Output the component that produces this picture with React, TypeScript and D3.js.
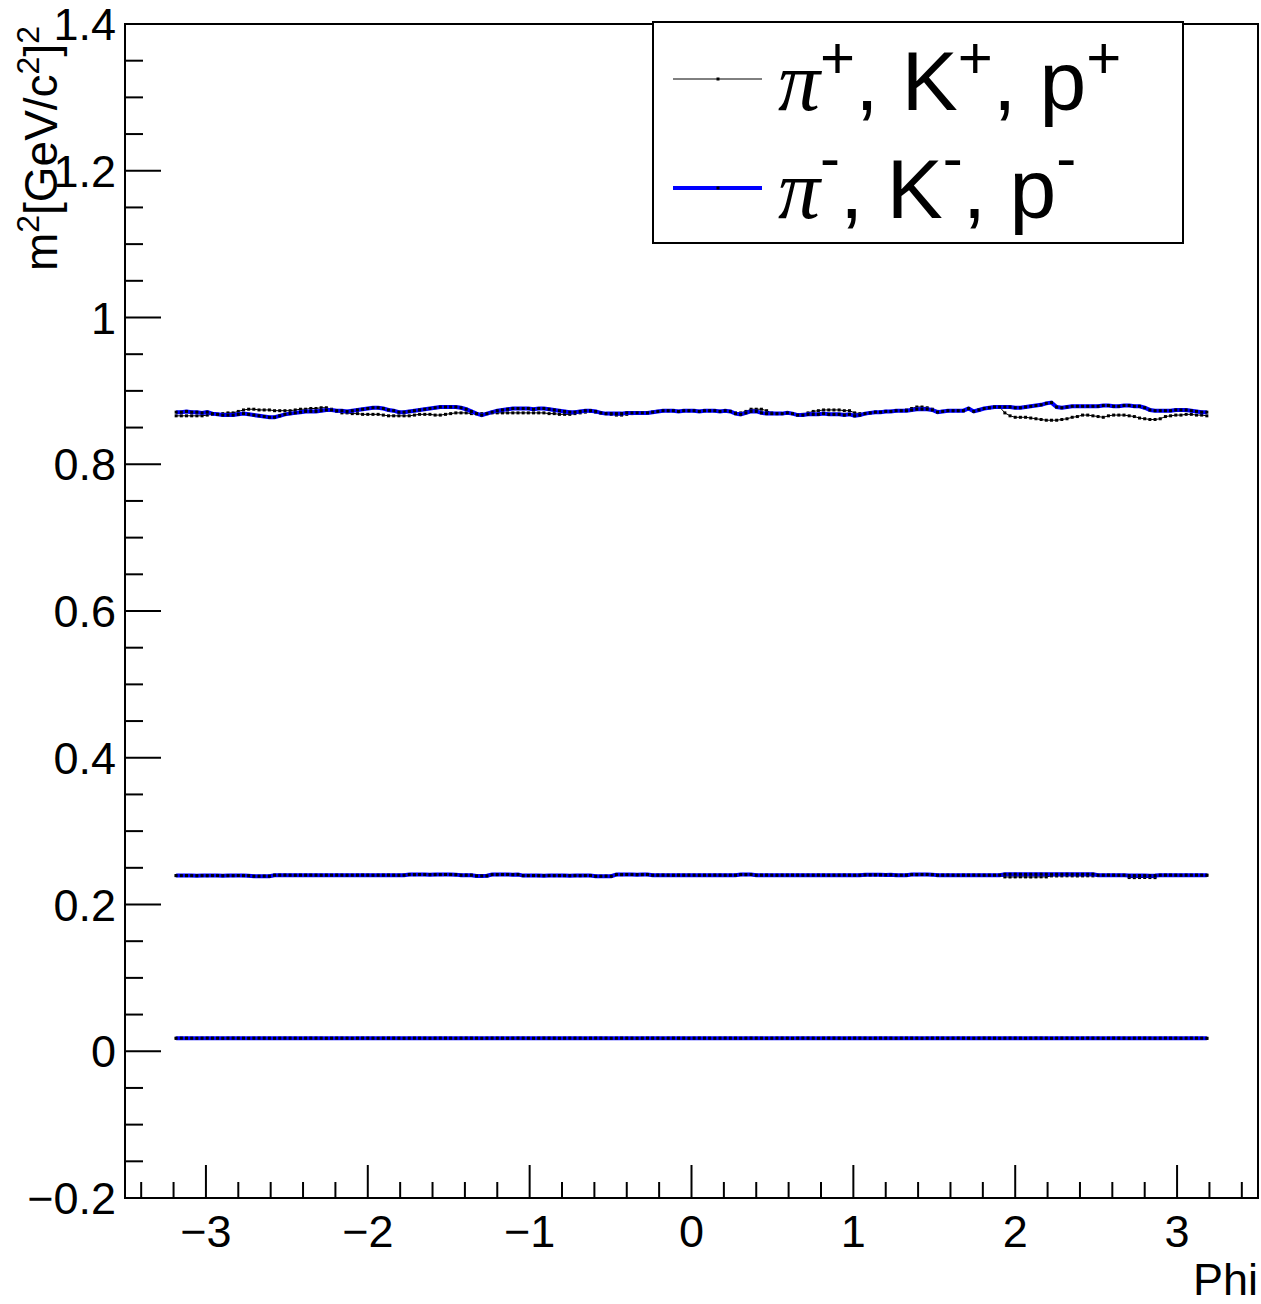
import React from "react";
import * as d3 from "d3";

// Histogram binning in Phi
const PHI_MIN = -3.2;
const PHI_MAX = 3.2;
const N_BINS = 200;

// mean m^2 per bin, protons (+) black
const protonPlus = [
  0.866,0.866,0.866,0.866,0.866,0.866,0.867,0.868,0.868,0.869,
  0.870,0.870,0.872,0.874,0.875,0.875,0.874,0.874,0.874,0.873,
  0.873,0.873,0.873,0.874,0.875,0.875,0.876,0.876,0.877,0.877,
  0.875,0.872,0.870,0.870,0.869,0.869,0.868,0.868,0.868,0.868,
  0.867,0.866,0.866,0.866,0.866,0.866,0.867,0.868,0.868,0.868,
  0.867,0.867,0.868,0.869,0.870,0.870,0.870,0.869,0.869,0.869,
  0.869,0.870,0.870,0.870,0.870,0.870,0.870,0.870,0.870,0.870,
  0.870,0.870,0.869,0.869,0.868,0.868,0.868,0.869,0.870,0.871,
  0.872,0.871,0.870,0.869,0.868,0.867,0.867,0.868,0.869,0.870,
  0.870,0.870,0.871,0.872,0.873,0.873,0.873,0.872,0.873,0.873,
  0.873,0.872,0.873,0.873,0.873,0.872,0.873,0.872,0.870,0.870,
  0.872,0.875,0.875,0.875,0.873,0.870,0.869,0.869,0.870,0.869,
  0.867,0.868,0.870,0.872,0.873,0.874,0.874,0.874,0.874,0.873,
  0.873,0.870,0.869,0.869,0.870,0.871,0.871,0.872,0.872,0.873,
  0.873,0.874,0.876,0.878,0.878,0.877,0.875,0.872,0.872,0.873,
  0.873,0.873,0.873,0.875,0.872,0.874,0.876,0.877,0.878,0.878,
  0.870,0.866,0.864,0.864,0.864,0.863,0.862,0.861,0.860,0.860,
  0.860,0.861,0.862,0.864,0.865,0.867,0.867,0.866,0.865,0.864,
  0.866,0.867,0.867,0.867,0.866,0.865,0.863,0.862,0.861,0.861,
  0.862,0.865,0.866,0.867,0.867,0.868,0.868,0.867,0.867,0.866,
];

// protons (-) blue
const protonMinus = [
  0.871,0.871,0.872,0.871,0.871,0.870,0.871,0.869,0.868,0.867,
  0.867,0.867,0.868,0.869,0.868,0.867,0.866,0.865,0.864,0.864,
  0.866,0.868,0.869,0.870,0.871,0.872,0.872,0.872,0.873,0.874,
  0.874,0.873,0.873,0.872,0.873,0.874,0.875,0.876,0.877,0.877,
  0.876,0.874,0.873,0.871,0.871,0.872,0.873,0.874,0.875,0.876,
  0.877,0.878,0.878,0.878,0.878,0.877,0.875,0.872,0.869,0.867,
  0.869,0.871,0.873,0.874,0.875,0.876,0.876,0.876,0.876,0.875,
  0.876,0.876,0.875,0.874,0.873,0.872,0.871,0.871,0.872,0.873,
  0.873,0.872,0.870,0.869,0.869,0.869,0.869,0.870,0.870,0.870,
  0.870,0.870,0.871,0.872,0.873,0.873,0.873,0.872,0.873,0.873,
  0.873,0.872,0.873,0.873,0.873,0.872,0.873,0.872,0.869,0.868,
  0.870,0.872,0.872,0.870,0.869,0.869,0.869,0.869,0.870,0.869,
  0.867,0.867,0.868,0.868,0.868,0.869,0.868,0.868,0.868,0.867,
  0.868,0.866,0.867,0.869,0.870,0.871,0.871,0.872,0.872,0.873,
  0.873,0.873,0.874,0.875,0.875,0.875,0.874,0.871,0.872,0.873,
  0.873,0.873,0.873,0.876,0.872,0.874,0.876,0.877,0.878,0.878,
  0.878,0.878,0.877,0.877,0.878,0.879,0.880,0.881,0.883,0.884,
  0.878,0.877,0.878,0.879,0.879,0.879,0.879,0.879,0.879,0.880,
  0.880,0.879,0.879,0.880,0.880,0.879,0.879,0.877,0.874,0.873,
  0.873,0.873,0.873,0.874,0.874,0.874,0.873,0.872,0.871,0.871,
];

// kaons (+) black
const kaonPlus = [
  0.2394,0.2395,0.2393,0.2394,0.2395,0.2394,0.2393,0.2394,0.2395,0.2394,
  0.2393,0.2394,0.2395,0.2394,0.2393,0.2385,0.2384,0.2385,0.2386,0.2399,
  0.2400,0.2399,0.2398,0.2399,0.2400,0.2399,0.2398,0.2399,0.2400,0.2399,
  0.2398,0.2399,0.2400,0.2399,0.2398,0.2399,0.2400,0.2399,0.2398,0.2399,
  0.2400,0.2399,0.2398,0.2399,0.2400,0.2408,0.2407,0.2408,0.2409,0.2408,
  0.2407,0.2408,0.2409,0.2408,0.2407,0.2399,0.2400,0.2399,0.2390,0.2389,
  0.2390,0.2408,0.2407,0.2408,0.2409,0.2408,0.2407,0.2394,0.2395,0.2394,
  0.2393,0.2394,0.2395,0.2394,0.2393,0.2394,0.2395,0.2394,0.2393,0.2394,
  0.2395,0.2385,0.2384,0.2385,0.2386,0.2408,0.2407,0.2408,0.2409,0.2408,
  0.2407,0.2408,0.2399,0.2400,0.2399,0.2398,0.2399,0.2400,0.2399,0.2398,
  0.2399,0.2400,0.2399,0.2398,0.2399,0.2400,0.2399,0.2398,0.2399,0.2408,
  0.2407,0.2408,0.2399,0.2400,0.2399,0.2398,0.2399,0.2400,0.2399,0.2398,
  0.2399,0.2400,0.2399,0.2398,0.2399,0.2400,0.2399,0.2398,0.2399,0.2400,
  0.2399,0.2398,0.2399,0.2404,0.2405,0.2404,0.2403,0.2404,0.2405,0.2399,
  0.2398,0.2399,0.2408,0.2407,0.2408,0.2409,0.2408,0.2399,0.2400,0.2399,
  0.2398,0.2399,0.2400,0.2399,0.2398,0.2399,0.2400,0.2399,0.2398,0.2399,
  0.2376,0.2375,0.2376,0.2377,0.2376,0.2375,0.2376,0.2377,0.2376,0.2390,
  0.2389,0.2390,0.2391,0.2390,0.2389,0.2390,0.2391,0.2390,0.2399,0.2398,
  0.2399,0.2400,0.2399,0.2398,0.2367,0.2366,0.2367,0.2368,0.2367,0.2366,
  0.2399,0.2400,0.2399,0.2398,0.2399,0.2400,0.2399,0.2398,0.2399,0.2400,
];

// kaons (-) blue
const kaonMinus = [
  0.2394,0.2394,0.2395,0.2394,0.2393,0.2394,0.2394,0.2395,0.2394,0.2393,
  0.2394,0.2394,0.2395,0.2394,0.2393,0.2385,0.2385,0.2386,0.2385,0.2399,
  0.2399,0.2400,0.2399,0.2398,0.2399,0.2399,0.2400,0.2399,0.2398,0.2399,
  0.2399,0.2400,0.2399,0.2398,0.2399,0.2399,0.2400,0.2399,0.2398,0.2399,
  0.2399,0.2400,0.2399,0.2398,0.2399,0.2408,0.2408,0.2409,0.2408,0.2407,
  0.2408,0.2408,0.2409,0.2408,0.2407,0.2399,0.2399,0.2400,0.2390,0.2390,
  0.2391,0.2408,0.2408,0.2409,0.2408,0.2407,0.2408,0.2394,0.2394,0.2395,
  0.2394,0.2393,0.2394,0.2394,0.2395,0.2394,0.2393,0.2394,0.2394,0.2395,
  0.2394,0.2385,0.2385,0.2386,0.2385,0.2408,0.2408,0.2409,0.2408,0.2407,
  0.2408,0.2408,0.2399,0.2399,0.2400,0.2399,0.2398,0.2399,0.2399,0.2400,
  0.2399,0.2398,0.2399,0.2399,0.2400,0.2399,0.2398,0.2399,0.2399,0.2408,
  0.2408,0.2409,0.2399,0.2399,0.2400,0.2399,0.2398,0.2399,0.2399,0.2400,
  0.2399,0.2398,0.2399,0.2399,0.2400,0.2399,0.2398,0.2399,0.2399,0.2400,
  0.2399,0.2398,0.2399,0.2404,0.2404,0.2405,0.2404,0.2403,0.2404,0.2399,
  0.2399,0.2400,0.2408,0.2408,0.2409,0.2408,0.2407,0.2399,0.2399,0.2400,
  0.2399,0.2398,0.2399,0.2399,0.2400,0.2399,0.2398,0.2399,0.2399,0.2400,
  0.2412,0.2412,0.2413,0.2412,0.2411,0.2412,0.2412,0.2413,0.2412,0.2411,
  0.2412,0.2412,0.2413,0.2412,0.2411,0.2412,0.2412,0.2413,0.2399,0.2399,
  0.2400,0.2399,0.2398,0.2399,0.2394,0.2394,0.2395,0.2394,0.2393,0.2394,
  0.2399,0.2399,0.2400,0.2399,0.2398,0.2399,0.2399,0.2400,0.2399,0.2398,
];

// pions (+) black
const pionPlus = [
  0.0177,0.0177,0.0178,0.0177,0.0176,0.0177,0.0177,0.0178,0.0177,0.0176,
  0.0177,0.0177,0.0178,0.0177,0.0176,0.0177,0.0177,0.0178,0.0177,0.0176,
  0.0177,0.0177,0.0178,0.0177,0.0176,0.0177,0.0177,0.0178,0.0177,0.0176,
  0.0177,0.0177,0.0178,0.0177,0.0176,0.0177,0.0177,0.0178,0.0177,0.0176,
  0.0177,0.0177,0.0178,0.0177,0.0176,0.0177,0.0177,0.0178,0.0177,0.0176,
  0.0177,0.0177,0.0178,0.0177,0.0176,0.0177,0.0177,0.0178,0.0177,0.0176,
  0.0177,0.0177,0.0178,0.0177,0.0176,0.0177,0.0177,0.0178,0.0177,0.0176,
  0.0177,0.0177,0.0178,0.0177,0.0176,0.0177,0.0177,0.0178,0.0177,0.0176,
  0.0177,0.0177,0.0178,0.0177,0.0176,0.0177,0.0177,0.0178,0.0177,0.0176,
  0.0177,0.0177,0.0178,0.0177,0.0176,0.0177,0.0177,0.0178,0.0177,0.0176,
  0.0177,0.0177,0.0178,0.0177,0.0176,0.0177,0.0177,0.0178,0.0177,0.0176,
  0.0177,0.0177,0.0178,0.0177,0.0176,0.0177,0.0177,0.0178,0.0177,0.0176,
  0.0177,0.0177,0.0178,0.0177,0.0176,0.0177,0.0177,0.0178,0.0177,0.0176,
  0.0177,0.0177,0.0178,0.0177,0.0176,0.0177,0.0177,0.0178,0.0177,0.0176,
  0.0177,0.0177,0.0178,0.0177,0.0176,0.0177,0.0177,0.0178,0.0177,0.0176,
  0.0177,0.0177,0.0178,0.0177,0.0176,0.0177,0.0177,0.0178,0.0177,0.0176,
  0.0177,0.0177,0.0178,0.0177,0.0176,0.0177,0.0177,0.0178,0.0177,0.0176,
  0.0177,0.0177,0.0178,0.0177,0.0176,0.0177,0.0177,0.0178,0.0177,0.0176,
  0.0177,0.0177,0.0178,0.0177,0.0176,0.0177,0.0177,0.0178,0.0177,0.0176,
  0.0177,0.0177,0.0178,0.0177,0.0176,0.0177,0.0177,0.0178,0.0177,0.0176,
];

// pions (-) blue
const pionMinus = [
  0.0177,0.0178,0.0177,0.0177,0.0176,0.0177,0.0178,0.0177,0.0177,0.0176,
  0.0177,0.0178,0.0177,0.0177,0.0176,0.0177,0.0178,0.0177,0.0177,0.0176,
  0.0177,0.0178,0.0177,0.0177,0.0176,0.0177,0.0178,0.0177,0.0177,0.0176,
  0.0177,0.0178,0.0177,0.0177,0.0176,0.0177,0.0178,0.0177,0.0177,0.0176,
  0.0177,0.0178,0.0177,0.0177,0.0176,0.0177,0.0178,0.0177,0.0177,0.0176,
  0.0177,0.0178,0.0177,0.0177,0.0176,0.0177,0.0178,0.0177,0.0177,0.0176,
  0.0177,0.0178,0.0177,0.0177,0.0176,0.0177,0.0178,0.0177,0.0177,0.0176,
  0.0177,0.0178,0.0177,0.0177,0.0176,0.0177,0.0178,0.0177,0.0177,0.0176,
  0.0177,0.0178,0.0177,0.0177,0.0176,0.0177,0.0178,0.0177,0.0177,0.0176,
  0.0177,0.0178,0.0177,0.0177,0.0176,0.0177,0.0178,0.0177,0.0177,0.0176,
  0.0177,0.0178,0.0177,0.0177,0.0176,0.0177,0.0178,0.0177,0.0177,0.0176,
  0.0177,0.0178,0.0177,0.0177,0.0176,0.0177,0.0178,0.0177,0.0177,0.0176,
  0.0177,0.0178,0.0177,0.0177,0.0176,0.0177,0.0178,0.0177,0.0177,0.0176,
  0.0177,0.0178,0.0177,0.0177,0.0176,0.0177,0.0178,0.0177,0.0177,0.0176,
  0.0177,0.0178,0.0177,0.0177,0.0176,0.0177,0.0178,0.0177,0.0177,0.0176,
  0.0177,0.0178,0.0177,0.0177,0.0176,0.0177,0.0178,0.0177,0.0177,0.0176,
  0.0177,0.0178,0.0177,0.0177,0.0176,0.0177,0.0178,0.0177,0.0177,0.0176,
  0.0177,0.0178,0.0177,0.0177,0.0176,0.0177,0.0178,0.0177,0.0177,0.0176,
  0.0177,0.0178,0.0177,0.0177,0.0176,0.0177,0.0178,0.0177,0.0177,0.0176,
  0.0177,0.0178,0.0177,0.0177,0.0176,0.0177,0.0178,0.0177,0.0177,0.0176,
];

const xMajorTicks = [-3, -2, -1, 0, 1, 2, 3];
const yMajorTicks = [-0.2, 0, 0.2, 0.4, 0.6, 0.8, 1, 1.2, 1.4];
const xTickLabels = ["\u22123", "\u22122", "\u22121", "0", "1", "2", "3"];
const yTickLabels = ["\u22120.2", "0", "0.2", "0.4", "0.6", "0.8", "1", "1.2", "1.4"];

const W = 1261;
const H = 1304;
const FONT = "'Liberation Sans', Arial, Helvetica, sans-serif";
const SERIF = "'Liberation Serif', 'DejaVu Serif', serif";

export default function App() {
  const left = 125, right = 1258, top = 24, bottom = 1198;
  const x = d3.scaleLinear().domain([-3.5, 3.5]).range([left, right]);
  const y = d3.scaleLinear().domain([-0.2, 1.4]).range([bottom, top]);
  const binW = (PHI_MAX - PHI_MIN) / N_BINS;
  const centers = d3.range(N_BINS).map((i) => PHI_MIN + binW * (i + 0.5));

  const line = d3
    .line<number>()
    .x((_, i) => x(centers[i]))
    .y((d) => y(d));

  const xMinor = d3.range(-34, 35, 2).map((v) => v / 10).filter((v) => Math.abs(v - Math.round(v)) > 1e-6);
  const yMinor = d3.range(-4, 29).map((v) => v * 0.05).filter((v) => Math.abs(v * 5 - Math.round(v * 5)) > 1e-6);

  const blackSeries = [pionPlus, kaonPlus, protonPlus];
  const blueSeries = [pionMinus, kaonMinus, protonMinus];

  const markers = (data: number[], key: string, s: number) =>
    data.map((d, i) => (
      <rect key={key + i} x={x(centers[i]) - s / 2} y={y(d) - s / 2} width={s} height={s} fill="#000" />
    ));

  const legFs = 84;
  const supFs = 60;

  return (
    <svg width={W} height={H} style={{ position: "absolute", left: 0, top: 0, background: "#fff" }}>
      <rect x={0} y={0} width={W} height={H} fill="#fff" />
      {/* data: black series */}
      {blackSeries.map((s, k) => (
        <g key={"b" + k}>
          <path d={line(s) || ""} fill="none" stroke="#000" strokeWidth={1} />
          {markers(s, "bm" + k, 3)}
        </g>
      ))}
      {/* data: blue series */}
      {blueSeries.map((s, k) => (
        <g key={"u" + k}>
          <path d={line(s) || ""} fill="none" stroke="#0000ff" strokeWidth={4} />
          {markers(s, "um" + k, 3)}
        </g>
      ))}

      {/* frame */}
      <rect x={left} y={top} width={right - left} height={bottom - top} fill="none" stroke="#000" strokeWidth={2} />

      {/* x ticks */}
      {xMajorTicks.map((t) => (
        <line key={"xt" + t} x1={x(t)} x2={x(t)} y1={bottom} y2={bottom - 33} stroke="#000" strokeWidth={2} />
      ))}
      {xMinor.map((t) => (
        <line key={"xm" + t} x1={x(t)} x2={x(t)} y1={bottom} y2={bottom - 16} stroke="#000" strokeWidth={2} />
      ))}
      {/* y ticks */}
      {yMajorTicks.map((t) => (
        <line key={"yt" + t} x1={left} x2={left + 36} y1={y(t)} y2={y(t)} stroke="#000" strokeWidth={2} />
      ))}
      {yMinor.map((t) => (
        <line key={"ym" + t} x1={left} x2={left + 18} y1={y(t)} y2={y(t)} stroke="#000" strokeWidth={2} />
      ))}

      {/* tick labels */}
      {xMajorTicks.map((t, i) => (
        <text key={"xl" + t} x={x(t)} y={1247} textAnchor="middle" fontFamily={FONT} fontSize={45} fill="#000">
          {xTickLabels[i]}
        </text>
      ))}
      {yMajorTicks.map((t, i) => (
        <text key={"yl" + t} x={116} y={y(t) + 16} textAnchor="end" fontFamily={FONT} fontSize={45} fill="#000">
          {yTickLabels[i]}
        </text>
      ))}

      {/* axis titles */}
      <text x={1258} y={1295} textAnchor="end" fontFamily={FONT} fontSize={45} fill="#000">Phi</text>
      <text transform="translate(57,26) rotate(-90)" textAnchor="end" fontFamily={FONT} fontSize={46} fill="#000">
        <tspan>m</tspan>
        <tspan fontSize={32} dy={-18}>2</tspan>
        <tspan dy={18}>[GeV/c</tspan>
        <tspan fontSize={32} dy={-18}>2</tspan>
        <tspan dy={18}>]</tspan>
        <tspan fontSize={32} dy={-18}>2</tspan>
      </text>

      {/* legend */}
      <rect x={653} y={22} width={530} height={221} fill="#fff" stroke="#000" strokeWidth={2} />
      <line x1={673} x2={762} y1={79} y2={79} stroke="#000" strokeWidth={1} />
      <rect x={716.5} y={77.5} width={3} height={3} fill="#000" />
      <line x1={673} x2={762} y1={188} y2={188} stroke="#0000ff" strokeWidth={4} />
      <rect x={716.5} y={186.5} width={3} height={3} fill="#000" />
      <text x={778} y={110} fontFamily={FONT} fontSize={legFs} fill="#000">
        <tspan fontFamily={SERIF} fontStyle="italic">π</tspan>
        <tspan fontSize={supFs} dy={-32}>+</tspan>
        <tspan dy={32}>, K</tspan>
        <tspan fontSize={supFs} dy={-32}>+</tspan>
        <tspan dy={32}>, p</tspan>
        <tspan fontSize={supFs} dy={-32}>+</tspan>
      </text>
      <text x={778} y={218} fontFamily={FONT} fontSize={legFs} fill="#000">
        <tspan fontFamily={SERIF} fontStyle="italic">π</tspan>
        <tspan fontSize={supFs} dy={-40}>-</tspan>
        <tspan dy={40}>, K</tspan>
        <tspan fontSize={supFs} dy={-40}>-</tspan>
        <tspan dy={40}>, p</tspan>
        <tspan fontSize={supFs} dy={-40}>-</tspan>
      </text>
    </svg>
  );
}
